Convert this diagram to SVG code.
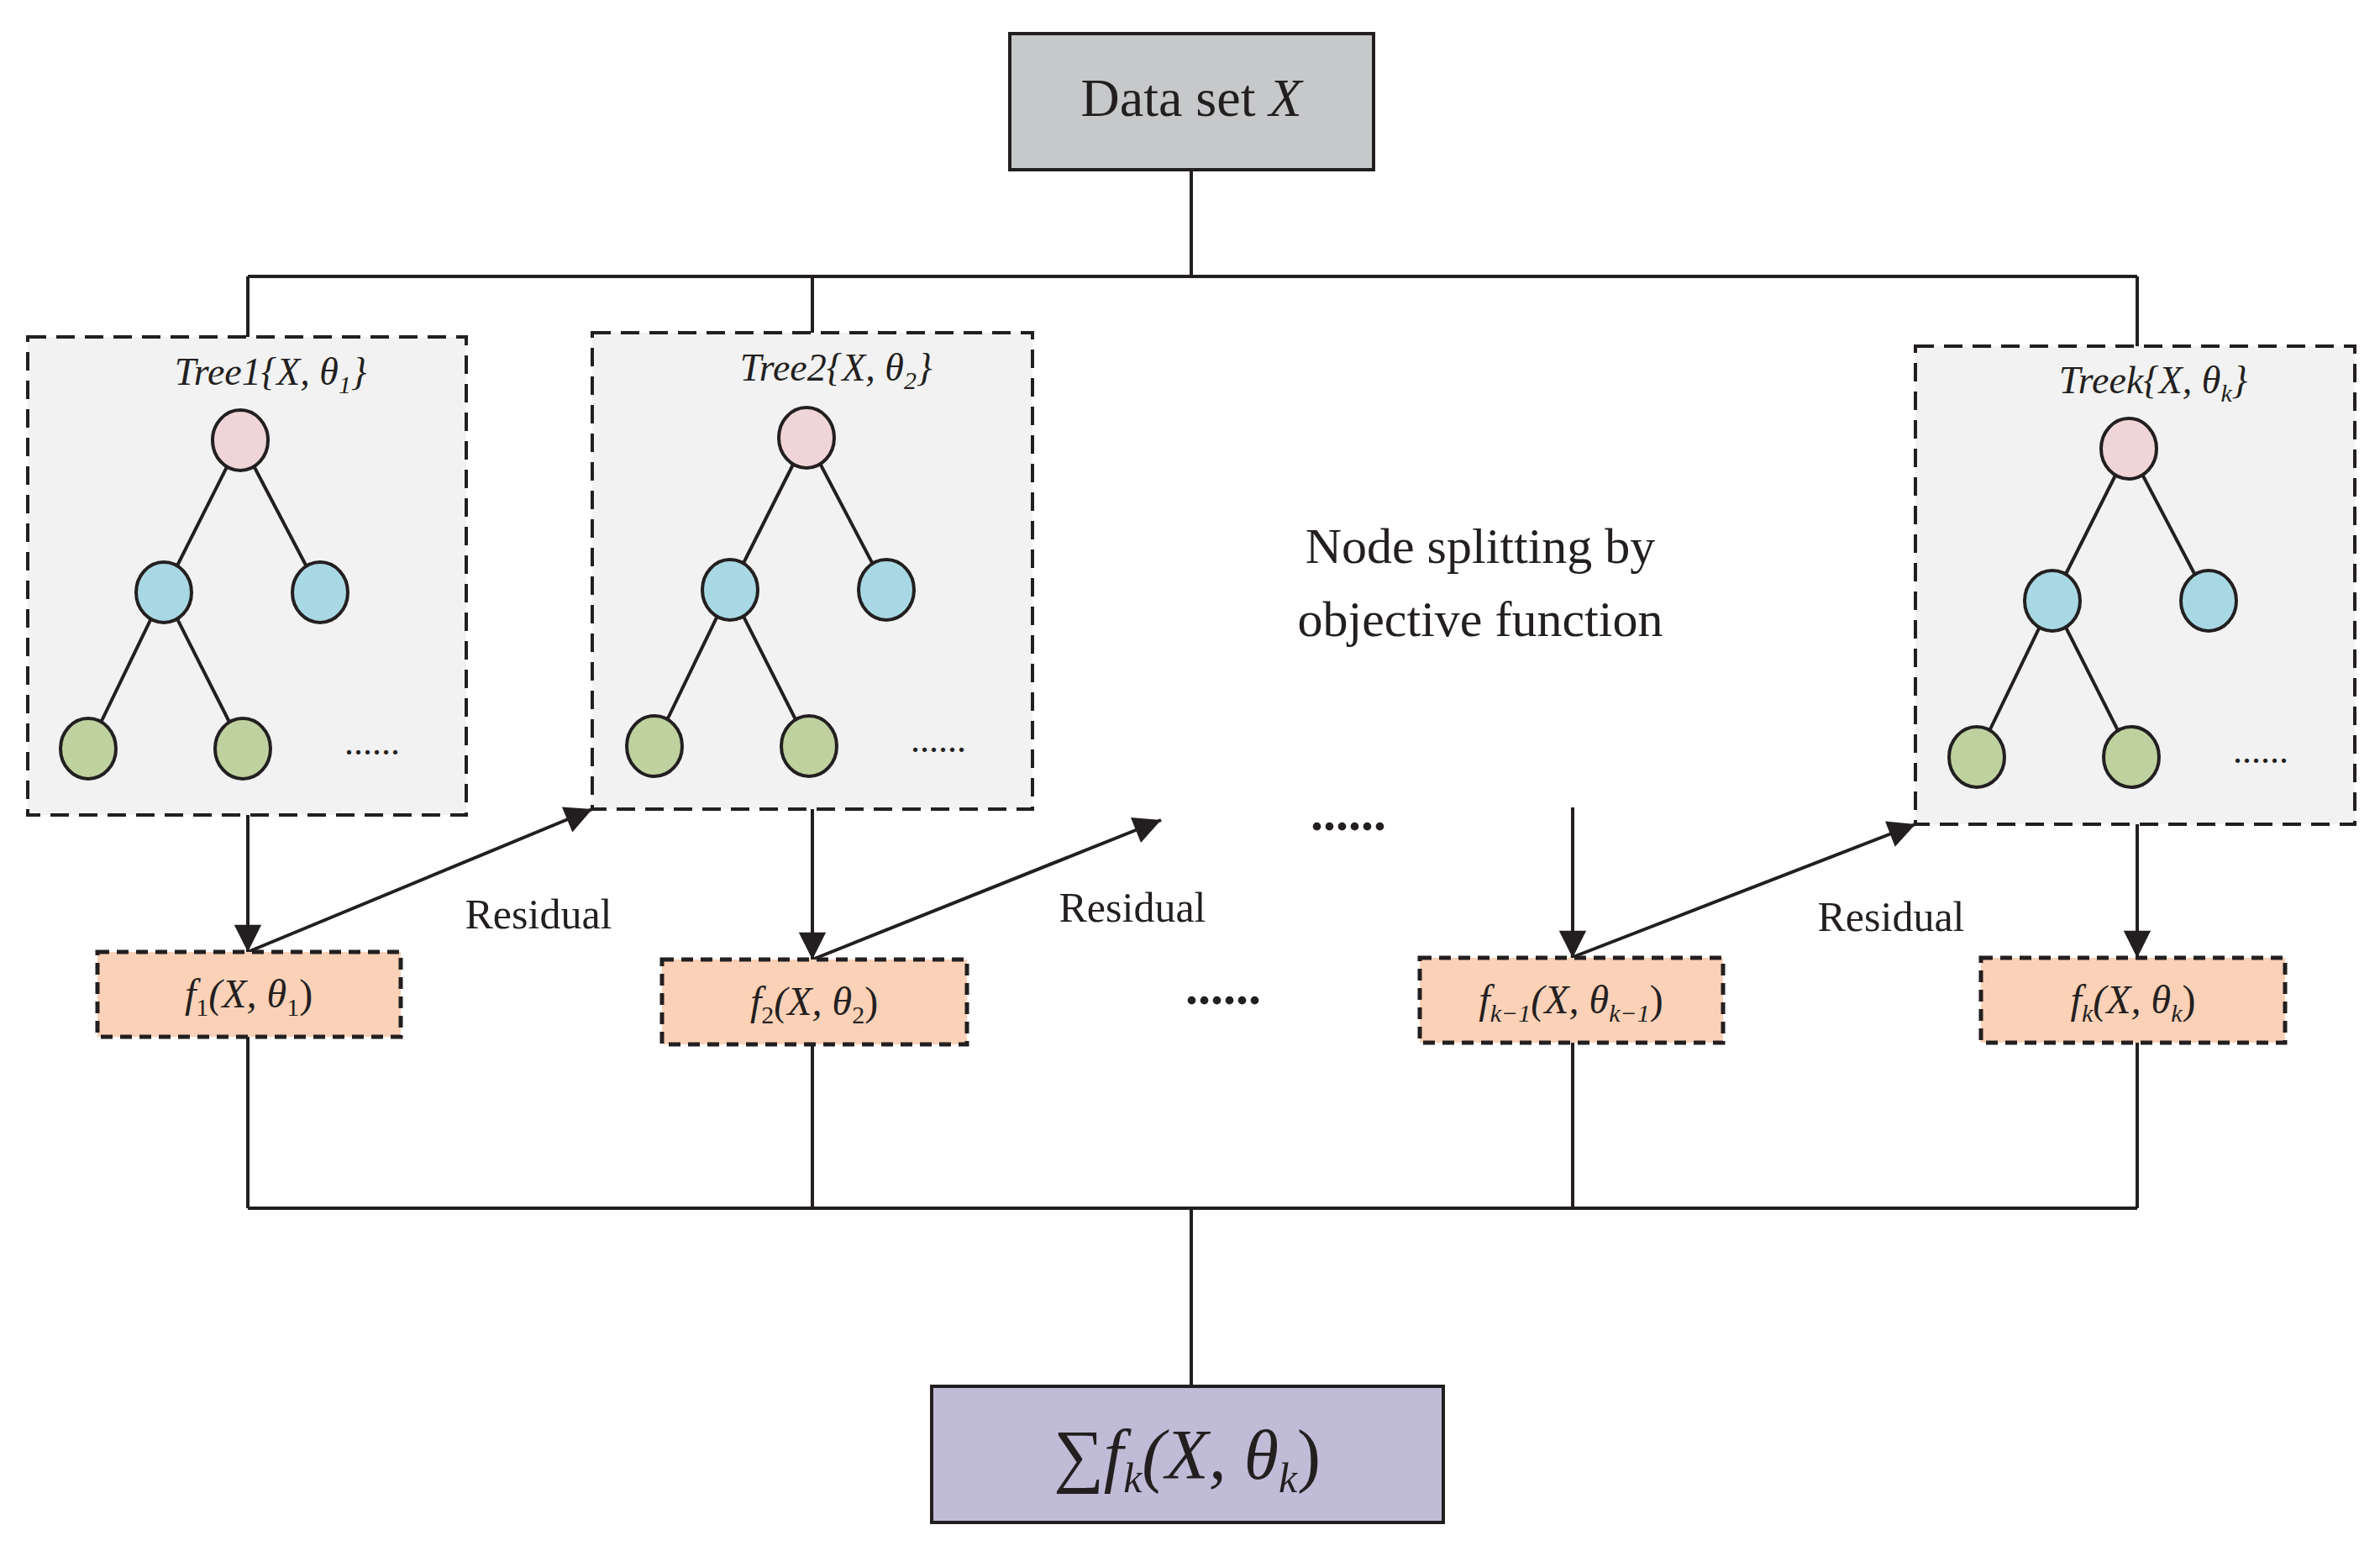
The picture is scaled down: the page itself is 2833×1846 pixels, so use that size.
<svg xmlns="http://www.w3.org/2000/svg" width="2833" height="1846" viewBox="0 0 2833 1846">
<style>
.ln{stroke:#231f20;stroke-width:4;fill:none}
.tb{fill:#f2f2f2;stroke:#231f20;stroke-width:4;stroke-dasharray:22,12}
.fb{fill:#fbd1b7;stroke:#231f20;stroke-width:5;stroke-dasharray:14,9}
.t{font-family:"Liberation Serif",serif;fill:#231f20}
.i{font-style:italic}
.pk{fill:#efd5d7;stroke:#231f20;stroke-width:4}
.bl{fill:#a8d8e4;stroke:#231f20;stroke-width:4}
.gr{fill:#bed19f;stroke:#231f20;stroke-width:4}
</style>
<defs>
<marker id="ah" viewBox="0 0 10 10" refX="10" refY="5" markerWidth="9" markerHeight="9" markerUnits="userSpaceOnUse" orient="auto" style="overflow:visible">
<path d="M0,0 L10,5 L0,10 z" fill="#231f20" transform="scale(3.6) translate(-7.2,-3.6)"/>
</marker>
<g id="tree">
<line class="ln" x1="286" y1="524" x2="195" y2="705"/><line class="ln" x1="286" y1="524" x2="381" y2="705"/>
<line class="ln" x1="195" y1="705" x2="105" y2="891"/><line class="ln" x1="195" y1="705" x2="289" y2="891"/>
<ellipse class="pk" cx="286" cy="524" rx="33" ry="36"/>
<ellipse class="bl" cx="195" cy="705" rx="33" ry="36"/><ellipse class="bl" cx="381" cy="705" rx="33" ry="36"/>
<ellipse class="gr" cx="105" cy="891" rx="33" ry="36"/><ellipse class="gr" cx="289" cy="891" rx="33" ry="36"/>
<text class="t" x="443" y="898" font-size="44" text-anchor="middle">......</text>
</g>
</defs>
<g id="connectors">
<path class="ln" d="M1418,202 V329 M295,329 H2544 M295,329 V401 M967,329 V396 M2544,329 V412"/>
<path class="ln" d="M295,1234 V1438 M967,1243 V1438 M1872,1241 V1438 M2544,1241 V1438 M295,1438 H2544 M1418,1438 V1650"/>
<path d="M295,970 V1133" class="ln" marker-end="url(#ah)"/>
<path d="M967,963 V1142" class="ln" marker-end="url(#ah)"/>
<path d="M1872,961 V1140" class="ln" marker-end="url(#ah)"/>
<path d="M2544,981 V1140" class="ln" marker-end="url(#ah)"/>
<path d="M295,1133 L705,963" class="ln" marker-end="url(#ah)"/>
<path d="M967,1142 L1382,976" class="ln" marker-end="url(#ah)"/>
<path d="M1870,1140 L2280,981" class="ln" marker-end="url(#ah)"/>
</g>
<g id="dataset">
<rect x="1202" y="40" width="433" height="162" fill="#c7c8ca" stroke="#231f20" stroke-width="4"/>
<text class="t" x="1418" y="138" font-size="64" text-anchor="middle">Data set <tspan class="i">X</tspan></text>
</g>
<g id="tree1">
<rect class="tb" x="33" y="401" width="522" height="569"/>
<text class="t i" x="322" y="458" font-size="46" text-anchor="middle">Tree1{X, θ<tspan font-size="30" dy="10">1</tspan><tspan dy="-10">}</tspan></text>
<use href="#tree"/>
</g>
<g id="tree2">
<rect class="tb" x="705" y="396" width="524" height="567"/>
<text class="t i" x="995" y="453" font-size="46" text-anchor="middle">Tree2{X, θ<tspan font-size="30" dy="10">2</tspan><tspan dy="-10">}</tspan></text>
<use href="#tree" transform="translate(674,-3)"/>
</g>
<g id="treek">
<rect class="tb" x="2280" y="412" width="523" height="569"/>
<text class="t i" x="2563" y="468" font-size="46" text-anchor="middle">Treek{X, θ<tspan font-size="30" dy="10">k</tspan><tspan dy="-10">}</tspan></text>
<use href="#tree" transform="translate(2248,10)"/>
</g>
<g id="note">
<text class="t" x="1762" y="670" font-size="60" text-anchor="middle">Node splitting by</text>
<text class="t" x="1762" y="757" font-size="60" text-anchor="middle">objective function</text>
<text class="t" x="1605" y="988" font-size="60" text-anchor="middle" font-weight="bold">......</text>
<text class="t" x="1456" y="1195" font-size="60" text-anchor="middle" font-weight="bold">......</text>
<text class="t" x="641" y="1105" font-size="50" text-anchor="middle">Residual</text>
<text class="t" x="1348" y="1097" font-size="50" text-anchor="middle">Residual</text>
<text class="t" x="2251" y="1108" font-size="50" text-anchor="middle">Residual</text>
</g>
<g id="f1"><rect class="fb" x="116" y="1133" width="361" height="101"/>
<text class="t i" x="296" y="1199" font-size="48" text-anchor="middle">f<tspan font-size="30" dy="10" font-style="normal">1</tspan><tspan dy="-10">(X, θ</tspan><tspan font-size="30" dy="10" font-style="normal">1</tspan><tspan dy="-10" font-style="normal">)</tspan></text></g>
<g id="f2"><rect class="fb" x="788" y="1142" width="363" height="101"/>
<text class="t i" x="969" y="1208" font-size="48" text-anchor="middle">f<tspan font-size="30" dy="10" font-style="normal">2</tspan><tspan dy="-10">(X, θ</tspan><tspan font-size="30" dy="10" font-style="normal">2</tspan><tspan dy="-10" font-style="normal">)</tspan></text></g>
<g id="fk1"><rect class="fb" x="1690" y="1140" width="361" height="101"/>
<text class="t i" x="1870" y="1206" font-size="48" text-anchor="middle">f<tspan font-size="30" dy="10">k−1</tspan><tspan dy="-10">(X, θ</tspan><tspan font-size="30" dy="10">k−1</tspan><tspan dy="-10" font-style="normal">)</tspan></text></g>
<g id="fk"><rect class="fb" x="2358" y="1140" width="362" height="101"/>
<text class="t i" x="2539" y="1206" font-size="48" text-anchor="middle">f<tspan font-size="30" dy="10">k</tspan><tspan dy="-10">(X, θ</tspan><tspan font-size="30" dy="10">k</tspan><tspan dy="-10" font-style="normal">)</tspan></text></g>
<g id="sum"><rect x="1109" y="1650" width="609" height="162" fill="#c0bbd6" stroke="#231f20" stroke-width="4"/>
<text class="t i" x="1413" y="1760" font-size="84" text-anchor="middle"><tspan font-style="normal">∑</tspan>f<tspan font-size="50" dy="16">k</tspan><tspan dy="-16">(X, θ</tspan><tspan font-size="50" dy="16">k</tspan><tspan dy="-16" font-style="normal">)</tspan></text></g>
</svg>
